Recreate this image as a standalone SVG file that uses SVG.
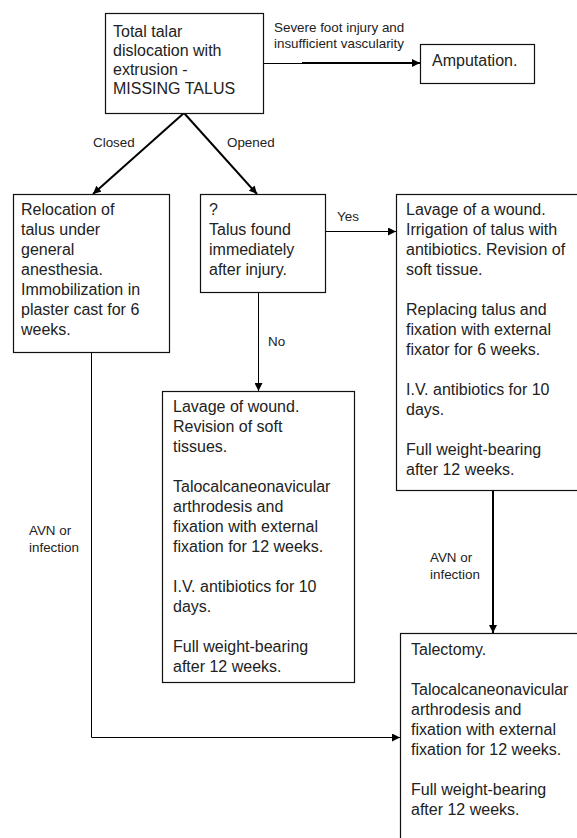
<svg xmlns="http://www.w3.org/2000/svg" width="577" height="838" viewBox="0 0 577 838">
<defs>
<style>
.box{fill:#fff;stroke:#111;stroke-width:1.2}
.t{font-family:"Liberation Sans",Arial,sans-serif;font-size:16px;fill:#222}
.l{font-family:"Liberation Sans",Arial,sans-serif;font-size:13.4px;fill:#222}
.thin{fill:none;stroke:#000;stroke-width:1}
.thick{fill:none;stroke:#000;stroke-width:2}
</style>
<marker id="ah" viewBox="0 0 10 10" refX="10" refY="5" markerWidth="8" markerHeight="8" markerUnits="userSpaceOnUse" orient="auto">
<path d="M0,0 L10,5 L0,10 z" fill="#000"/>
</marker>
</defs>
<rect width="577" height="838" fill="#fff"/>
<g id="connectors">
<line class="thin" x1="263" y1="63.5" x2="302" y2="63.5"/>
<line class="thick" x1="302" y1="63" x2="420" y2="63" marker-end="url(#ah)"/>
<line class="thick" x1="184" y1="113" x2="93" y2="194" marker-end="url(#ah)"/>
<line class="thick" x1="184" y1="113" x2="257" y2="194" marker-end="url(#ah)"/>
<line class="thin" x1="325" y1="231.5" x2="396" y2="231.5" marker-end="url(#ah)"/>
<line class="thin" x1="258.5" y1="292" x2="258.5" y2="391" marker-end="url(#ah)"/>
<polyline class="thin" points="91.5,352 91.5,737.5 400,737.5" marker-end="url(#ah)"/>
<line class="thick" x1="493" y1="490" x2="493" y2="633" marker-end="url(#ah)"/>
<text class="l" x="274" y="32">Severe foot injury and</text>
<text class="l" x="274" y="48">insufficient vascularity</text>
<text class="l" x="93" y="147">Closed</text>
<text class="l" x="227" y="147">Opened</text>
<text class="l" x="337" y="221">Yes</text>
<text class="l" x="268" y="346">No</text>
<text class="l" x="29" y="535">AVN or</text>
<text class="l" x="29" y="552">infection</text>
<text class="l" x="430" y="562">AVN or</text>
<text class="l" x="430" y="579">infection</text>
</g>
<g id="n-start">
<rect class="box" x="105.5" y="13.5" width="158" height="100"/>
<text class="t" x="113" y="37">Total talar</text>
<text class="t" x="113" y="56">dislocation with</text>
<text class="t" x="113" y="75">extrusion -</text>
<text class="t" x="113" y="94">MISSING TALUS</text>
</g>
<g id="n-amputation">
<rect class="box" x="420.5" y="44.5" width="114" height="39"/>
<text class="t" x="432" y="66">Amputation.</text>
</g>
<g id="n-closed">
<rect class="box" x="13.5" y="194.5" width="156" height="158"/>
<text class="t" x="21" y="215">Relocation of</text>
<text class="t" x="21" y="235">talus under</text>
<text class="t" x="21" y="255">general</text>
<text class="t" x="21" y="275">anesthesia.</text>
<text class="t" x="21" y="295">Immobilization in</text>
<text class="t" x="21" y="315">plaster cast for 6</text>
<text class="t" x="21" y="335">weeks.</text>
</g>
<g id="n-found">
<rect class="box" x="200.5" y="194.5" width="125" height="98"/>
<text class="t" x="209" y="215">?</text>
<text class="t" x="209" y="235">Talus found</text>
<text class="t" x="209" y="255">immediately</text>
<text class="t" x="209" y="275">after injury.</text>
</g>
<g id="n-yes">
<rect class="box" x="396.5" y="194.5" width="220" height="296"/>
<text class="t" x="406" y="215">Lavage of a wound.</text>
<text class="t" x="406" y="235">Irrigation of talus with</text>
<text class="t" x="406" y="255">antibiotics. Revision of</text>
<text class="t" x="406" y="275">soft tissue.</text>
<text class="t" x="406" y="315">Replacing talus and</text>
<text class="t" x="406" y="335">fixation with external</text>
<text class="t" x="406" y="355">fixator for 6 weeks.</text>
<text class="t" x="406" y="395">I.V. antibiotics for 10</text>
<text class="t" x="406" y="415">days.</text>
<text class="t" x="406" y="455">Full weight-bearing</text>
<text class="t" x="406" y="475">after 12 weeks.</text>
</g>
<g id="n-no">
<rect class="box" x="162.5" y="391.5" width="192" height="291"/>
<text class="t" x="173" y="412">Lavage of wound.</text>
<text class="t" x="173" y="432">Revision of soft</text>
<text class="t" x="173" y="452">tissues.</text>
<text class="t" x="173" y="492">Talocalcaneonavicular</text>
<text class="t" x="173" y="512">arthrodesis and</text>
<text class="t" x="173" y="532">fixation with external</text>
<text class="t" x="173" y="552">fixation for 12 weeks.</text>
<text class="t" x="173" y="592">I.V. antibiotics for 10</text>
<text class="t" x="173" y="612">days.</text>
<text class="t" x="173" y="652">Full weight-bearing</text>
<text class="t" x="173" y="672">after 12 weeks.</text>
</g>
<g id="n-talectomy">
<rect class="box" x="400.5" y="633.5" width="220" height="230"/>
<text class="t" x="411" y="655">Talectomy.</text>
<text class="t" x="411" y="695">Talocalcaneonavicular</text>
<text class="t" x="411" y="715">arthrodesis and</text>
<text class="t" x="411" y="735">fixation with external</text>
<text class="t" x="411" y="755">fixation for 12 weeks.</text>
<text class="t" x="411" y="795">Full weight-bearing</text>
<text class="t" x="411" y="815">after 12 weeks.</text>
</g>
</svg>
